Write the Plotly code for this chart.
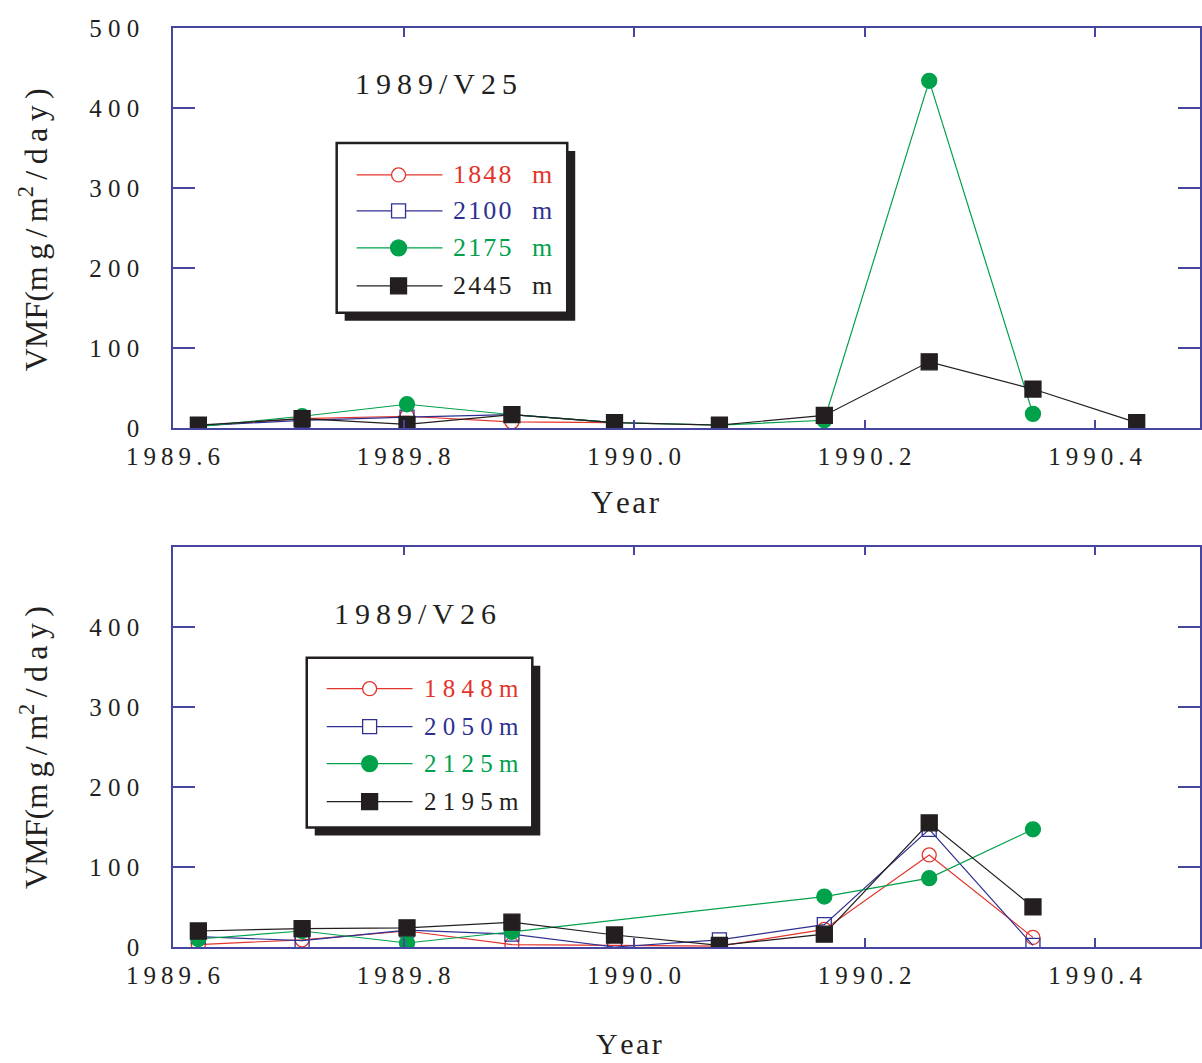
import plotly.graph_objects as go

# ---- data -------------------------------------------------------------
sample_year = [1989.622, 1989.712, 1989.803, 1989.894, 1989.983,
               1990.074, 1990.165, 1990.256, 1990.346, 1990.436]

# 1989 / V25 mooring
v25_labels = ["1848", "2100", "2175", "2445"]
v25_1848 = [3, 12, 15, 8, 7]
v25_2100 = [3, 10, 14, 17, 7]
v25_2175 = [2, 15, 30, 17, 7, 4, 10, 434, 18]
v25_2445 = [4, 12, 5, 17, 7, 4, 16, 83, 49, 7]

# 1989 / V26 mooring
v26_labels = ["1848", "2050", "2125", "2195"]
v26_1848 = [3, 9, 20, 3, 2, 1, 22, 115, 12]
v26_2050 = [13, 8, 21, 16, 0, 9, 28, 147, 2]
v26_2125_x = [1989.622, 1989.712, 1989.803, 1989.894, 1990.165, 1990.256, 1990.346]
v26_2125 = [10, 20, 5, 19, 63, 86, 147]
v26_2195 = [20, 23, 24, 31, 15, 2, 16, 155, 50]

y_ticks_top = [0, 100, 200, 300, 400, 500]
y_ticks_bot = [0, 100, 200, 300, 400]
x_ticks = [1989.6, 1989.8, 1990.0, 1990.2, 1990.4]

# ---- styling ----------------------------------------------------------
FONT = "Liberation Serif"
INK = "#231f20"
AXIS = "#4646a0"
RED, BLUE, GREEN, BLACK = "#e3342b", "#2e3192", "#00a14b", "#231f20"

W, H = 1202, 1063
L, R, T, B = 173, 0, 28, 115.5
PW, PH = W - L - R, H - T - B

THIN, HAIR = "\u2009", "\u200a"


def spaced(s, sep=" "):
    return sep.join(list(s))


def px(x):
    return (x - L) / PW


def py(y):
    return (H - B - y) / PH


styles = [
    dict(color=RED, symbol="circle-open", size=14),
    dict(color=BLUE, symbol="square-open", size=14),
    dict(color=GREEN, symbol="circle", size=15),
    dict(color=BLACK, symbol="square", size=16),
]

fig = go.Figure()


def add_series(xs, ys, st, xa, ya):
    fig.add_trace(go.Scatter(
        x=xs[:len(ys)], y=ys, mode="lines+markers", xaxis=xa, yaxis=ya,
        line=dict(color=st["color"], width=1.2),
        marker=dict(symbol=st["symbol"], size=st["size"], color=st["color"],
                    line=dict(color=st["color"], width=1.3)),
        showlegend=False, hoverinfo="x+y"))


for ys, st in zip([v25_1848, v25_2100, v25_2175, v25_2445], styles):
    add_series(sample_year, ys, st, "x", "y")

add_series(sample_year, v26_1848, styles[0], "x2", "y2")
add_series(sample_year, v26_2050, styles[1], "x2", "y2")
add_series(v26_2125_x, v26_2125, styles[2], "x2", "y2")
add_series(sample_year, v26_2195, styles[3], "x2", "y2")

x_range = [1989.6, 1989.6 + PW / 1155.0]
xaxis_common = dict(
    range=x_range, tickvals=x_ticks,
    ticktext=[spaced(f"{v:.1f}", THIN) for v in x_ticks],
    showline=True, linecolor=AXIS, linewidth=1.5, mirror="ticks",
    ticks="inside", ticklen=9, tickwidth=1.5, tickcolor=AXIS,
    showgrid=False, zeroline=False,
    tickfont=dict(family=FONT, size=25, color=INK), ticklabelstandoff=5,
)
yaxis_common = dict(
    range=[0, 500],
    showline=True, linecolor=AXIS, linewidth=1.5, mirror="ticks",
    ticks="inside", ticklen=22, tickwidth=1.5, tickcolor=AXIS,
    showgrid=False, zeroline=False,
    tickfont=dict(family=FONT, size=25, color=INK), ticklabelstandoff=27,
)

top_dom = [py(428.5), 1.0]
bot_dom = [0.0, py(547)]

fig.update_layout(
    width=W, height=H,
    margin=dict(l=L, r=R, t=T, b=B, pad=0),
    paper_bgcolor="white", plot_bgcolor="white",
    showlegend=False,
    xaxis=dict(xaxis_common, anchor="y", domain=[0, 1]),
    yaxis=dict(yaxis_common, anchor="x", domain=top_dom, tickvals=y_ticks_top,
               ticktext=[spaced(str(v)) for v in y_ticks_top]),
    xaxis2=dict(xaxis_common, anchor="y2", domain=[0, 1]),
    yaxis2=dict(yaxis_common, anchor="x2", domain=bot_dom, tickvals=y_ticks_bot,
                ticktext=[spaced(str(v)) for v in y_ticks_bot]),
)

ytitle = ("VMF(" + THIN.join(["m", "g", "/", "m<sup>2</sup>", "/", "d", "a", "y", ")"]))
ann = []
for cy in (230, 748):
    ann.append(dict(x=px(33), y=py(cy), text=ytitle, textangle=-90,
                    font=dict(family=FONT, size=32, color=INK)))
ann.append(dict(x=px(626), y=py(503), text=spaced("Year", HAIR),
                font=dict(family=FONT, size=31, color=INK)))
ann.append(dict(x=px(630), y=py(1063), yanchor="bottom", text=spaced("Year", HAIR),
                font=dict(family=FONT, size=30, color=INK)))
ann.append(dict(x=px(437), y=py(84), text=spaced("1989/V25", THIN),
                font=dict(family=FONT, size=30, color=INK)))
ann.append(dict(x=px(415), y=py(614), text=spaced("1989/V26", THIN),
                font=dict(family=FONT, size=30, color=INK)))

shapes = []


def legend_box(x0, y0, x1, y1, shadow=8):
    shapes.append(dict(type="rect", xref="paper", yref="paper",
                       x0=px(x0 + shadow), x1=px(x1 + shadow),
                       y0=py(y0 + shadow), y1=py(y1 + shadow),
                       line=dict(width=0), fillcolor=BLACK, layer="above"))
    shapes.append(dict(type="rect", xref="paper", yref="paper",
                       x0=px(x0), x1=px(x1), y0=py(y0), y1=py(y1),
                       line=dict(width=2.5, color=BLACK), fillcolor="white",
                       layer="above"))


def legend_entry(lx0, lx1, mx, ry, st):
    shapes.append(dict(type="line", xref="paper", yref="paper",
                       x0=px(lx0), x1=px(lx1), y0=py(ry), y1=py(ry),
                       line=dict(color=st["color"], width=1.2), layer="above"))
    r = 7 if "open" in st["symbol"] else 8
    fill = "white" if "open" in st["symbol"] else st["color"]
    kind = "circle" if "circle" in st["symbol"] else "rect"
    shapes.append(dict(type=kind, xref="paper", yref="paper",
                       x0=px(mx - r), x1=px(mx + r), y0=py(ry + r), y1=py(ry - r),
                       line=dict(color=st["color"], width=1.3), fillcolor=fill,
                       layer="above"))


legend_box(337, 143, 568, 313)
for i, (lab, st) in enumerate(zip(v25_labels, styles)):
    ry = [175, 211, 248, 286][i]
    legend_entry(357, 443, 399, ry, st)
    ann.append(dict(x=px(452), y=py(ry), xanchor="left", text=spaced(lab, HAIR),
                    font=dict(family=FONT, size=26, color=st["color"])))
    ann.append(dict(x=px(531), y=py(ry), xanchor="left", text="m",
                    font=dict(family=FONT, size=26, color=st["color"])))

legend_box(307, 658, 533, 828)
for i, (lab, st) in enumerate(zip(v26_labels, styles)):
    ry = [689, 727, 764, 802][i]
    legend_entry(327, 413, 370, ry, st)
    ann.append(dict(x=px(422), y=py(ry), xanchor="left", text=spaced(lab + "m"),
                    font=dict(family=FONT, size=25, color=st["color"])))

for a in ann:
    a.setdefault("xref", "paper")
    a.setdefault("yref", "paper")
    a.setdefault("showarrow", False)
    a.setdefault("xanchor", "center")
    a.setdefault("yanchor", "middle")

fig.update_layout(annotations=ann, shapes=shapes)
fig.write_html("out.html")
